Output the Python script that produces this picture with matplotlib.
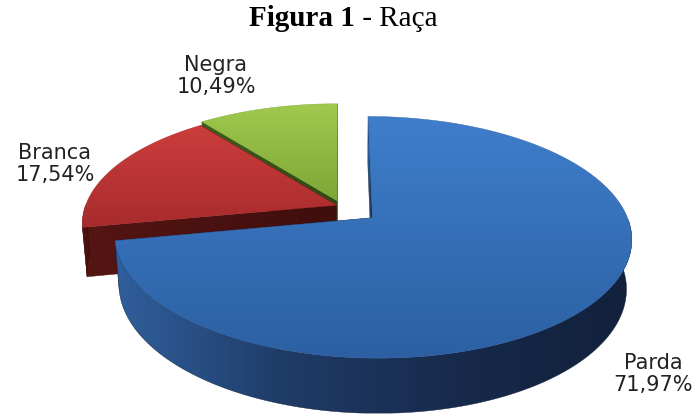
import numpy as np
import matplotlib
matplotlib.use('Agg')
import matplotlib.pyplot as plt
from matplotlib.patches import Polygon
from matplotlib.colors import LinearSegmentedColormap

# dados do gráfico
categories = ['Parda', 'Branca', 'Negra']
percent = [71.97, 17.54, 10.49]
pct_labels = ['71,97%', '17,54%', '10,49%']
explode = [0.16, 0.02, 0.05]

# cores (topo claro, topo escuro, parede)
top_colors = [('#3f7ecb', '#2c60a3'), ('#cc3d3d', '#a82b2c'), ('#a0c94e', '#7ea636')]
wall_colors = [['#305f9c', '#1f3b66', '#172a4b', '#12213c'],
               ['#551513', '#3f0e0d'],
               ['#3e5e1c', '#2f4812']]

# camera / projecao
ELEV = np.radians(27)
DIST = 5.6
FOCAL = 1405
THICK = 0.22
OX, OY = 341, 206

def project(X, Y, Z):
    yc = Y * np.sin(ELEV) + Z * np.cos(ELEV)
    zc = DIST + Y * np.cos(ELEV) - Z * np.sin(ELEV)
    return OX + FOCAL * X / zc, OY - FOCAL * yc / zc


def fill_grad(ax, xs, ys, colors, vertical=True, zorder=1):
    pts = np.column_stack([xs, ys])
    patch = Polygon(pts, closed=True, facecolor='none', edgecolor='none')
    ax.add_patch(patch)
    cmap = LinearSegmentedColormap.from_list('g', colors)
    grad = np.linspace(0, 1, 256)
    if vertical:
        img = grad[:, None]
    else:
        img = grad[None, :]
    x0, x1 = xs.min(), xs.max()
    y0, y1 = ys.min(), ys.max()
    im = ax.imshow(img, cmap=cmap, extent=(x0, x1, y1, y0), aspect='auto',
                   interpolation='bilinear', zorder=zorder)
    im.set_clip_path(patch)
    # borda fina da mesma cor para evitar frestas
    ax.add_patch(Polygon(pts, closed=True, facecolor='none',
                         edgecolor=colors[-1], linewidth=0.3, zorder=zorder))


fig = plt.figure(figsize=(6.97, 4.19), dpi=100)
ax = fig.add_axes([0, 0, 1, 1])
ax.set_xlim(0, 697)
ax.set_ylim(419, 0)
ax.axis('off')

# angulos: comeca em 90 graus, sentido horario
angles = []
start = 90.0
for p in percent:
    end = start - p / 100 * 360
    angles.append((end, start))
    start = end

# desenha de tras para frente: Negra, Branca, Parda
order = [2, 1, 0]
z = 1
for i in order:
    a1, a0 = angles[i]
    lo, hi = a1 % 360, a1 % 360 + (a0 - a1)
    mid = np.radians((lo + hi) / 2)
    ex, ey = explode[i] * np.cos(mid), explode[i] * np.sin(mid)
    t = np.radians(np.linspace(lo, hi, 200))

    # faces de corte
    for a in (lo, hi):
        ar = np.radians(a)
        X = np.array([ex, ex + np.cos(ar), ex + np.cos(ar), ex])
        Y = np.array([ey, ey + np.sin(ar), ey + np.sin(ar), ey])
        Zs = np.array([0, 0, -THICK, -THICK])
        sx, sy = project(X, Y, Zs)
        fill_grad(ax, sx, sy, [wall_colors[i][0], wall_colors[i][-1]], vertical=False, zorder=z)
        z += 1

    # parede externa (parte frontal)
    tw = t[np.sin(t) <= 0.0]
    if len(tw) > 1:
        X = ex + np.cos(tw)
        Y = ey + np.sin(tw)
        tx, ty = project(X, Y, np.zeros_like(X))
        bx, by = project(X, Y, np.full_like(X, -THICK))
        fill_grad(ax, np.concatenate([tx, bx[::-1]]), np.concatenate([ty, by[::-1]]),
                  wall_colors[i], vertical=False, zorder=z)
        z += 1

    # topo
    X = np.concatenate([[ex], ex + np.cos(t)])
    Y = np.concatenate([[ey], ey + np.sin(t)])
    sx, sy = project(X, Y, np.zeros_like(X))
    fill_grad(ax, sx, sy, list(top_colors[i]), vertical=True, zorder=z)
    z += 1

# rotulos
label_pos = {'Parda': (653, 374), 'Branca': (55, 164), 'Negra': (216, 76)}
for cat, pl in zip(categories, pct_labels):
    x, y = label_pos[cat]
    ax.text(x, y, cat + '\n' + pl, ha='center', va='center', fontsize=15,
            family='DejaVu Sans', color='#222222', linespacing=1.12, zorder=50)

# titulo
ax.text(355, 19, 'Figura 1', ha='right', va='center', fontsize=21,
        family='Liberation Serif', fontweight='bold')
ax.text(355, 19, ' - Raça', ha='left', va='center', fontsize=21,
        family='Liberation Serif')

fig.savefig('out.png', dpi=100)
